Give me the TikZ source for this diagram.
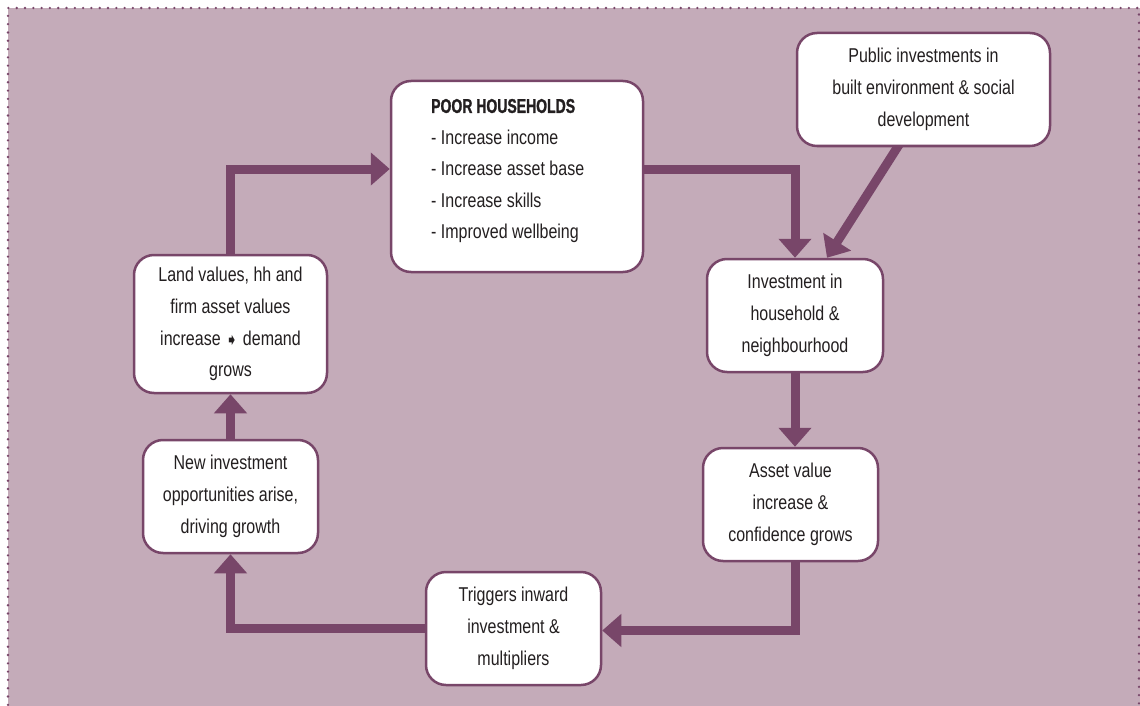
\documentclass[tikz,border=0pt]{standalone}
\usepackage{fontspec}
\setmainfont{Liberation Sans}[FakeStretch=0.8]
\newfontfamily\symfont{DejaVu Sans}
\newfontfamily\headfont{Liberation Sans Bold}[FakeStretch=0.7,FakeBold=1.2]
\usetikzlibrary{arrows.meta}
\definecolor{bgmauve}{RGB}{196,171,185}
\definecolor{plum}{RGB}{120,70,105}
\definecolor{ink}{RGB}{35,31,32}
\pgfdeclarelayer{bg}
\pgfsetlayers{bg,main}
\tikzset{
  box/.style={draw=plum, line width=2.5pt, fill=white, rounded corners=20pt,
    align=center, text=ink, inner sep=0pt,
    font={\fontsize{20}{31.8}\selectfont}},
  flow/.style={draw=plum, line width=9pt,
    -{Triangle[width=32pt,length=19pt]}, color=plum},
}
\begin{document}
\begin{tikzpicture}[x=1pt,y=-1pt]
\useasboundingbox (0,0) rectangle (1140,706);
% boxes
\node[box, minimum width=252pt, minimum height=191pt] (poor) at (517,176.5) {};
\node[anchor=west, align=left, text=ink, inner sep=0pt,
      font={\fontsize{20}{31.5}\selectfont}] (poortxt) at (431,171)
  {{\headfont POOR HOUSEHOLDS}\\- Increase income\\- Increase asset base\\- Increase skills\\- Improved wellbeing};
\node[box, minimum width=253pt, minimum height=113pt] (pub) at (923.5,89.5)
  {Public investments in\\built environment \& social\\development};
\node[box, minimum width=176pt, minimum height=113pt] (inv) at (795,315.5)
  {Investment in\\household \&\\neighbourhood};
\node[box, minimum width=175pt, minimum height=113pt] (asset) at (790.5,504.5)
  {Asset value\\increase \&\\confidence grows};
\node[box, minimum width=175pt, minimum height=113pt] (trig) at (513.5,628.5)
  {Triggers inward\\investment \&\\multipliers};
\node[box, minimum width=175pt, minimum height=113pt] (new) at (230.5,496.5)
  {New investment\\opportunities arise,\\driving growth};
\node[box, minimum width=193pt, minimum height=138pt] (land) at (230.5,324)
  {Land values, hh and\\firm asset values\\increase {\symfont\fontsize{16}{16}\selectfont ➧} demand\\grows};
\begin{pgfonlayer}{bg}
  \fill[bgmauve] (8,8) rectangle (1140,706);
  \draw[plum, line width=2.6pt, line cap=round, dash pattern=on 0pt off 8.3pt]
    (1139,720) -- (1139,8) -- (8,8) -- (8,720);
  \draw[flow] (land.north) |- ([yshift=7.5pt]poor.west);
  \draw[flow] ([yshift=7.5pt]poor.east) -| (inv.north);
  \draw[flow] ([xshift=-21pt,yshift=8pt]pub.south) -- ([xshift=32pt]inv.north);
  \draw[flow] (inv.south) -- (inv.south |- asset.north);
  \draw[flow] ([xshift=5pt]asset.south) |- ([yshift=-2pt]trig.east);
  \draw[flow] (trig.west) -| (new.south);
  \draw[flow] (new.north) -- (land.south);
\end{pgfonlayer}
\end{tikzpicture}
\end{document}
